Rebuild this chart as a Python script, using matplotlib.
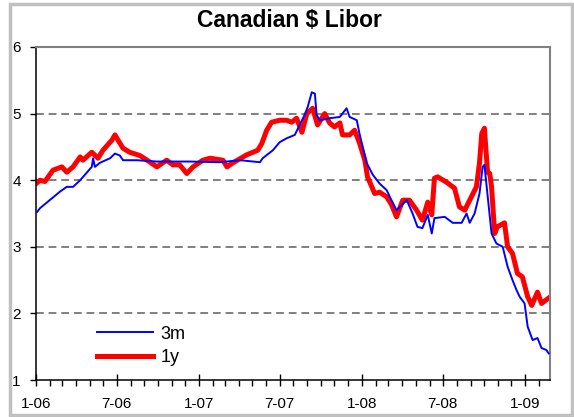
import numpy as np
import pandas as pd
import matplotlib
matplotlib.use("Agg")
import matplotlib.pyplot as plt
import matplotlib.dates as mdates
from matplotlib.patches import Rectangle

plt.rcParams["font.family"] = ["Liberation Sans", "DejaVu Sans"]

# 3m Canadian $ Libor
dates_3m = [
    "2006-01-03", "2006-01-10", "2006-02-24", "2006-03-11", "2006-03-25", "2006-04-10",
    "2006-05-06", "2006-05-09", "2006-05-13", "2006-05-24", "2006-06-16", "2006-06-27",
    "2006-07-08", "2006-07-15", "2006-08-15", "2006-09-29", "2006-12-12", "2007-02-17",
    "2007-04-03", "2007-05-18", "2007-05-24", "2007-06-16", "2007-07-01", "2007-07-17",
    "2007-08-04", "2007-08-15", "2007-08-26", "2007-09-02", "2007-09-11", "2007-09-18",
    "2007-09-22", "2007-09-29", "2007-10-21", "2007-11-13", "2007-11-28", "2007-12-05",
    "2007-12-21", "2007-12-27", "2008-01-12", "2008-01-26", "2008-02-10", "2008-02-26",
    "2008-03-04", "2008-03-19", "2008-04-11", "2008-04-24", "2008-05-05", "2008-05-16",
    "2008-05-28", "2008-06-06", "2008-06-12", "2008-07-05", "2008-07-23", "2008-08-12",
    "2008-08-23", "2008-08-30", "2008-09-10", "2008-09-21", "2008-09-28", "2008-10-02",
    "2008-10-09", "2008-10-18", "2008-10-29", "2008-11-12", "2008-11-23", "2008-12-04",
    "2008-12-13", "2008-12-20", "2008-12-31", "2009-01-07", "2009-01-18", "2009-01-29",
    "2009-02-07", "2009-02-18", "2009-02-23",
]
rate_3m = [
    3.52, 3.58, 3.83, 3.90, 3.90, 4.00,
    4.20, 4.33, 4.20, 4.26, 4.33, 4.40,
    4.37, 4.30, 4.30, 4.28, 4.28, 4.27,
    4.30, 4.27, 4.33, 4.45, 4.57, 4.63,
    4.68, 4.83, 4.98, 5.10, 5.32, 5.30,
    4.98, 4.90, 4.93, 4.95, 5.08, 4.95,
    4.90, 4.70, 4.26, 4.08, 3.95, 3.85,
    3.75, 3.55, 3.70, 3.50, 3.30, 3.28,
    3.48, 3.20, 3.43, 3.45, 3.36, 3.36,
    3.50, 3.36, 3.50, 3.80, 4.20, 4.23,
    3.78, 3.20, 3.05, 3.00, 2.70, 2.50,
    2.35, 2.25, 2.15, 1.80, 1.60, 1.63,
    1.48, 1.45, 1.40,
]

# 1y Canadian $ Libor
dates_1y = [
    "2006-01-03", "2006-01-10", "2006-01-21", "2006-02-08", "2006-02-28", "2006-03-11",
    "2006-03-25", "2006-04-10", "2006-04-16", "2006-05-06", "2006-05-20", "2006-05-31",
    "2006-06-20", "2006-06-27", "2006-07-04", "2006-07-15", "2006-07-30", "2006-08-22",
    "2006-09-07", "2006-09-29", "2006-10-21", "2006-11-04", "2006-11-19", "2006-12-05",
    "2006-12-19", "2007-01-10", "2007-01-26", "2007-02-24", "2007-03-05", "2007-03-18",
    "2007-04-18", "2007-05-13", "2007-05-22", "2007-06-02", "2007-06-13", "2007-07-01",
    "2007-07-17", "2007-07-28", "2007-08-08", "2007-08-20", "2007-08-31", "2007-09-13",
    "2007-09-24", "2007-10-10", "2007-10-21", "2007-11-01", "2007-11-13", "2007-11-19",
    "2007-12-05", "2007-12-16", "2007-12-27", "2008-01-08", "2008-01-14", "2008-01-30",
    "2008-02-10", "2008-02-26", "2008-03-08", "2008-03-19", "2008-04-02", "2008-04-17",
    "2008-05-03", "2008-05-16", "2008-05-28", "2008-06-06", "2008-06-12", "2008-06-19",
    "2008-07-09", "2008-07-27", "2008-08-07", "2008-08-19", "2008-08-30", "2008-09-14",
    "2008-09-21", "2008-09-26", "2008-10-02", "2008-10-09", "2008-10-14", "2008-10-18",
    "2008-10-25", "2008-10-31", "2008-11-16", "2008-11-23", "2008-12-04", "2008-12-15",
    "2008-12-26", "2009-01-07", "2009-01-16", "2009-01-29", "2009-02-07", "2009-02-23",
]
rate_1y = [
    3.96, 4.00, 3.98, 4.15, 4.20, 4.12,
    4.20, 4.35, 4.30, 4.42, 4.33, 4.45,
    4.60, 4.68, 4.60, 4.48, 4.42, 4.37,
    4.30, 4.20, 4.30, 4.23, 4.23, 4.10,
    4.20, 4.30, 4.33, 4.30, 4.20, 4.26,
    4.38, 4.45, 4.55, 4.75, 4.87, 4.90,
    4.90, 4.87, 4.93, 4.72, 5.00, 5.08,
    4.83, 5.00, 4.86, 4.80, 4.86, 4.68,
    4.68, 4.75, 4.56, 4.30, 4.05, 3.80,
    3.82, 3.75, 3.63, 3.45, 3.70, 3.70,
    3.55, 3.40, 3.67, 3.48, 4.03, 4.05,
    3.97, 3.88, 3.60, 3.55, 3.70, 3.90,
    4.26, 4.70, 4.78, 4.12, 4.10, 3.90,
    3.20, 3.30, 3.36, 3.00, 2.90, 2.60,
    2.55, 2.25, 2.12, 2.32, 2.15, 2.23,
]

series_labels = ["3m", "1y"]
y_ticks = [1, 2, 3, 4, 5, 6]


def month_label(x, pos=None):
    d = mdates.num2date(x)
    return f"{d.month}-{d:%y}"


fig = plt.figure(figsize=(5.74, 4.17), dpi=100)
fig.patch.set_facecolor("white")
# light grey outer frame, like the spreadsheet chart area
fig.patches.append(Rectangle((9.5 / 574, 2.5 / 417), 562 / 574, 411 / 417,
                             transform=fig.transFigure, fill=False,
                             edgecolor="#c0c0c0", linewidth=2.5))

ax = fig.add_axes([36 / 574, 37 / 417, 514 / 574, 333 / 417])

x3 = pd.to_datetime(dates_3m)
x1 = pd.to_datetime(dates_1y)
ax.plot(x3, rate_3m, color="#0000ff", linewidth=1.4, label=series_labels[0], zorder=3)
ax.plot(x1, rate_1y, color="#ff0000", linewidth=3.6, label=series_labels[1], zorder=2)

ax.set_xlim(pd.Timestamp("2006-01-01"), pd.Timestamp("2009-02-26"))
ax.set_ylim(1, 6)
ax.set_yticks(y_ticks)
for v in y_ticks[1:-1]:
    ax.axhline(v, color="#808080", linewidth=1.4, linestyle=(0, (4, 2.5)), zorder=1)

ax.xaxis.set_major_locator(mdates.MonthLocator(bymonth=[1, 7]))
ax.xaxis.set_minor_locator(mdates.MonthLocator())
ax.xaxis.set_major_formatter(plt.FuncFormatter(month_label))

ax.tick_params(axis="x", which="major", direction="inout", length=8, width=1,
               labelsize=11, pad=8)
ax.tick_params(axis="x", which="minor", direction="out", length=4, width=1)
ax.tick_params(axis="y", direction="out", length=4, width=1, labelsize=11, pad=7)

for side in ["left", "bottom"]:
    ax.spines[side].set_color("black")
    ax.spines[side].set_linewidth(1.1)
for side in ["top", "right"]:
    ax.spines[side].set_color("#808080")
    ax.spines[side].set_linewidth(1.5)

ax.legend(loc="upper left", bbox_to_anchor=(0.119, 0.163), frameon=False,
          fontsize=13, handlelength=3.1, handletextpad=0.4, labelspacing=0.35,
          borderpad=0, borderaxespad=0)

fig.text(0.505, 0.952, "Canadian $ Libor", ha="center", va="center",
         fontsize=16.5, fontweight="bold")

fig.savefig("out.png", dpi=100)
